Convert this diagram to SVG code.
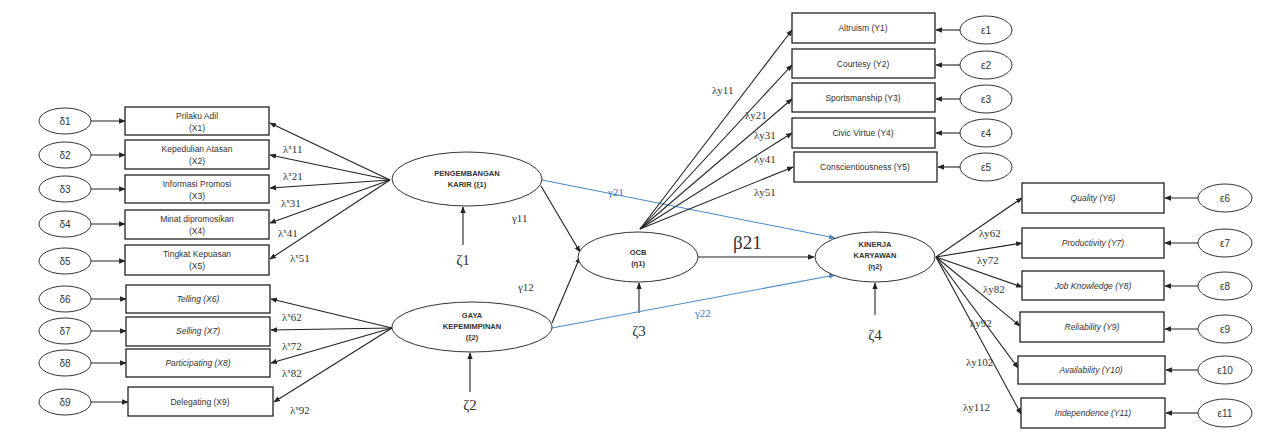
<svg xmlns="http://www.w3.org/2000/svg" width="1264" height="448" viewBox="0 0 1264 448">
<style>
.box{fill:#fff;stroke:#222;stroke-width:1.3}
.err{fill:#fff;stroke:#333;stroke-width:1}
.lat{fill:#fff;stroke:#333;stroke-width:1}
.bt{font-family:"Liberation Sans",Arial,sans-serif;font-size:8.5px;fill:#333;text-anchor:middle}
.bi{font-family:"Liberation Sans",Arial,sans-serif;font-size:8.5px;fill:#333;text-anchor:middle;font-style:italic}
.et{font-family:"Liberation Sans",Arial,sans-serif;font-size:10px;fill:#333;text-anchor:middle}
.lt{font-family:"Liberation Sans",Arial,sans-serif;font-size:7.5px;font-weight:bold;fill:#333;text-anchor:middle}
.lb{font-family:"Liberation Serif","Times New Roman",serif;font-size:11px;fill:#333}
.lbb{font-family:"Liberation Serif","Times New Roman",serif;font-size:11px;fill:#3a7ab8}
.big{font-family:"Liberation Serif","Times New Roman",serif;font-size:19px;fill:#333}
.z{font-family:"Liberation Serif","Times New Roman",serif;font-size:15px;fill:#333;text-anchor:middle}
.ln{stroke:#222;stroke-width:1.1;fill:none;marker-end:url(#ah)}
.bl{stroke:#4a8cc6;stroke-width:1.1;fill:none;marker-end:url(#ahb)}
</style>
<defs>
<marker id="ah" viewBox="0 0 10 10" refX="9" refY="5" markerWidth="6" markerHeight="6" orient="auto"><path d="M0,1 L10,5 L0,9 z" fill="#222"/></marker>
<marker id="ahb" viewBox="0 0 10 10" refX="9" refY="5" markerWidth="6" markerHeight="6" orient="auto"><path d="M0,1 L10,5 L0,9 z" fill="#4a8cc6"/></marker>
</defs>
<rect width="1264" height="448" fill="#fff"/>

<g id="connectors">
<line class="ln" x1="91" y1="121" x2="125" y2="121"/>
<line class="ln" x1="91" y1="155" x2="125" y2="155"/>
<line class="ln" x1="91" y1="189" x2="125" y2="189"/>
<line class="ln" x1="91" y1="224" x2="125" y2="224"/>
<line class="ln" x1="91" y1="261" x2="125" y2="261"/>
<line class="ln" x1="91" y1="299" x2="126" y2="299"/>
<line class="ln" x1="91" y1="331" x2="126" y2="331"/>
<line class="ln" x1="91" y1="363" x2="126" y2="363"/>
<line class="ln" x1="91" y1="402" x2="128" y2="402"/>
<line class="ln" x1="390" y1="180" x2="270" y2="123"/>
<line class="ln" x1="390" y1="180" x2="270" y2="155"/>
<line class="ln" x1="390" y1="180" x2="270" y2="188"/>
<line class="ln" x1="390" y1="180" x2="270" y2="223"/>
<line class="ln" x1="390" y1="180" x2="270" y2="259"/>
<line class="ln" x1="392" y1="328" x2="271" y2="299"/>
<line class="ln" x1="392" y1="328" x2="271" y2="330"/>
<line class="ln" x1="392" y1="328" x2="271" y2="363"/>
<line class="ln" x1="392" y1="328" x2="274" y2="402"/>
<line class="ln" x1="463" y1="245" x2="463" y2="207"/>
<line class="ln" x1="470" y1="392" x2="470" y2="353"/>
<line class="ln" x1="639" y1="313" x2="639" y2="283"/>
<line class="ln" x1="875" y1="315" x2="875" y2="283"/>
<line class="ln" x1="541" y1="186" x2="580" y2="252"/>
<line class="ln" x1="552" y1="323" x2="580" y2="257"/>
<line class="bl" x1="542" y1="180" x2="835" y2="238"/>
<line class="bl" x1="552" y1="328" x2="835" y2="275"/>
<line class="ln" x1="698" y1="257" x2="814" y2="257"/>
<line class="ln" x1="640" y1="229" x2="792" y2="30"/>
<line class="ln" x1="640" y1="229" x2="792" y2="65"/>
<line class="ln" x1="640" y1="229" x2="792" y2="99"/>
<line class="ln" x1="640" y1="229" x2="792" y2="133"/>
<line class="ln" x1="640" y1="229" x2="793" y2="167"/>
<line class="ln" x1="960" y1="30" x2="936" y2="30"/>
<line class="ln" x1="960" y1="65" x2="936" y2="65"/>
<line class="ln" x1="960" y1="99" x2="936" y2="99"/>
<line class="ln" x1="960" y1="133" x2="936" y2="133"/>
<line class="ln" x1="960" y1="167" x2="938" y2="167"/>
<line class="ln" x1="936" y1="257" x2="1022" y2="198"/>
<line class="ln" x1="936" y1="257" x2="1022" y2="243"/>
<line class="ln" x1="936" y1="257" x2="1022" y2="287"/>
<line class="ln" x1="936" y1="257" x2="1020" y2="326"/>
<line class="ln" x1="936" y1="257" x2="1018" y2="368"/>
<line class="ln" x1="936" y1="257" x2="1021" y2="414"/>
<line class="ln" x1="1198" y1="198" x2="1165" y2="198"/>
<line class="ln" x1="1198" y1="243" x2="1165" y2="243"/>
<line class="ln" x1="1198" y1="286" x2="1165" y2="286"/>
<line class="ln" x1="1198" y1="329" x2="1165" y2="329"/>
<line class="ln" x1="1198" y1="370" x2="1166" y2="370"/>
<line class="ln" x1="1198" y1="413" x2="1166" y2="413"/>
</g>

<g id="labels">
<text class="lb" x="283" y="153">λ<tspan font-size="7" dy="-4">x</tspan><tspan dy="4">11</tspan></text>
<text class="lb" x="283" y="180">λ<tspan font-size="7" dy="-4">x</tspan><tspan dy="4">21</tspan></text>
<text class="lb" x="281" y="207">λ<tspan font-size="7" dy="-4">x</tspan><tspan dy="4">31</tspan></text>
<text class="lb" x="278" y="237">λ<tspan font-size="7" dy="-4">x</tspan><tspan dy="4">41</tspan></text>
<text class="lb" x="290" y="262">λ<tspan font-size="7" dy="-4">x</tspan><tspan dy="4">51</tspan></text>
<text class="lb" x="282" y="321">λ<tspan font-size="7" dy="-4">x</tspan><tspan dy="4">62</tspan></text>
<text class="lb" x="282" y="350">λ<tspan font-size="7" dy="-4">x</tspan><tspan dy="4">72</tspan></text>
<text class="lb" x="282" y="377">λ<tspan font-size="7" dy="-4">x</tspan><tspan dy="4">82</tspan></text>
<text class="lb" x="290" y="414">λ<tspan font-size="7" dy="-4">x</tspan><tspan dy="4">92</tspan></text>
<text class="lb" x="512" y="222">γ11</text>
<text class="lb" x="518" y="291">γ12</text>
<text class="lbb" x="608" y="196">γ21</text>
<text class="lbb" x="695" y="317">γ22</text>
<text class="big" x="733" y="249">β21</text>
<text class="lb" x="712" y="94">λy11</text>
<text class="lb" x="745" y="119">λy21</text>
<text class="lb" x="754" y="139">λy31</text>
<text class="lb" x="754" y="163">λy41</text>
<text class="lb" x="754" y="196">λy51</text>
<text class="lb" x="979" y="237">λy62</text>
<text class="lb" x="977" y="264">λy72</text>
<text class="lb" x="983" y="293">λy82</text>
<text class="lb" x="970" y="327">λy92</text>
<text class="lb" x="966" y="366">λy102</text>
<text class="lb" x="963" y="411">λy112</text>
</g>

<g id="x1"><ellipse class="err" cx="65" cy="121" rx="26" ry="13"/><text class="et" x="65" y="125">δ1</text><rect class="box" x="125" y="107" width="144" height="28"/><text class="bt" x="197" y="119">Prilaku Adil</text><text class="bt" x="197" y="131">(X1)</text></g>
<g id="x2"><ellipse class="err" cx="65" cy="155" rx="26" ry="13"/><text class="et" x="65" y="159">δ2</text><rect class="box" x="125" y="140" width="144" height="29"/><text class="bt" x="197" y="152">Kepedulian Atasan</text><text class="bt" x="197" y="164">(X2)</text></g>
<g id="x3"><ellipse class="err" cx="65" cy="189" rx="26" ry="13"/><text class="et" x="65" y="193">δ3</text><rect class="box" x="125" y="175" width="144" height="28"/><text class="bt" x="197" y="187">Informasi Promosi</text><text class="bt" x="197" y="199">(X3)</text></g>
<g id="x4"><ellipse class="err" cx="65" cy="224" rx="26" ry="13"/><text class="et" x="65" y="228">δ4</text><rect class="box" x="125" y="210" width="144" height="29"/><text class="bt" x="197" y="222">Minat dipromosikan</text><text class="bt" x="197" y="234">(X4)</text></g>
<g id="x5"><ellipse class="err" cx="65" cy="261" rx="26" ry="13"/><text class="et" x="65" y="265">δ5</text><rect class="box" x="125" y="245" width="144" height="30"/><text class="bt" x="197" y="257">Tingkat Kepuasan</text><text class="bt" x="197" y="269">(X5)</text></g>
<g id="x6"><ellipse class="err" cx="65" cy="299" rx="26" ry="13"/><text class="et" x="65" y="303">δ6</text><rect class="box" x="126" y="285" width="144" height="28"/><text class="bi" x="198" y="302">Telling (X6)</text></g>
<g id="x7"><ellipse class="err" cx="65" cy="331" rx="26" ry="13"/><text class="et" x="65" y="335">δ7</text><rect class="box" x="126" y="317" width="144" height="29"/><text class="bi" x="198" y="334">Selling (X7)</text></g>
<g id="x8"><ellipse class="err" cx="65" cy="363" rx="26" ry="13"/><text class="et" x="65" y="367">δ8</text><rect class="box" x="126" y="349" width="144" height="28"/><text class="bi" x="198" y="366">Participating (X8)</text></g>
<g id="x9"><ellipse class="err" cx="65" cy="402" rx="26" ry="13"/><text class="et" x="65" y="406">δ9</text><rect class="box" x="128" y="387" width="145" height="29"/><text class="bt" x="200" y="405">Delegating (X9)</text></g>

<g id="ksi1"><ellipse class="lat" cx="467" cy="179" rx="75" ry="27"/><text class="lt" x="467" y="176">PENGEMBANGAN</text><text class="lt" x="467" y="187">KARIR (ξ1)</text><text class="z" x="463" y="265">ζ1</text></g>
<g id="ksi2"><ellipse class="lat" cx="472" cy="327" rx="80" ry="25"/><text class="lt" x="472" y="318">GAYA</text><text class="lt" x="472" y="329">KEPEMIMPINAN</text><text class="lt" x="472" y="340">(ξ2)</text><text class="z" x="470" y="410">ζ2</text></g>
<g id="eta1"><ellipse class="lat" cx="638" cy="257" rx="60" ry="25"/><text class="lt" x="638" y="255">OCB</text><text class="lt" x="638" y="266">(η1)</text><text class="z" x="639" y="336">ζ3</text></g>
<g id="eta2"><ellipse class="lat" cx="875" cy="257" rx="60" ry="25"/><text class="lt" x="875" y="247">KINERJA</text><text class="lt" x="875" y="258">KARYAWAN</text><text class="lt" x="875" y="269">(η2)</text><text class="z" x="875" y="340">ζ4</text></g>

<g id="y1"><rect class="box" x="792" y="13" width="143" height="30"/><text class="bt" x="863" y="31">Altruism (Y1)</text><ellipse class="err" cx="986" cy="30" rx="26" ry="14"/><text class="et" x="986" y="34">ε1</text></g>
<g id="y2"><rect class="box" x="792" y="49" width="143" height="29"/><text class="bt" x="863" y="67">Courtesy (Y2)</text><ellipse class="err" cx="986" cy="65" rx="26" ry="14"/><text class="et" x="986" y="69">ε2</text></g>
<g id="y3"><rect class="box" x="792" y="83" width="143" height="29"/><text class="bt" x="863" y="101">Sportsmanship (Y3)</text><ellipse class="err" cx="986" cy="99" rx="26" ry="14"/><text class="et" x="986" y="103">ε3</text></g>
<g id="y4"><rect class="box" x="792" y="118" width="143" height="30"/><text class="bt" x="863" y="136">Civic Virtue (Y4)</text><ellipse class="err" cx="986" cy="133" rx="26" ry="14"/><text class="et" x="986" y="137">ε4</text></g>
<g id="y5"><rect class="box" x="794" y="152" width="143" height="30"/><text class="bt" x="865" y="170">Conscientiousness (Y5)</text><ellipse class="err" cx="986" cy="167" rx="26" ry="14"/><text class="et" x="986" y="171">ε5</text></g>

<g id="y6"><rect class="box" x="1022" y="183" width="142" height="30"/><text class="bi" x="1093" y="201">Quality (Y6)</text><ellipse class="err" cx="1225" cy="198" rx="27" ry="14"/><text class="et" x="1225" y="202">ε6</text></g>
<g id="y7"><rect class="box" x="1022" y="228" width="142" height="30"/><text class="bi" x="1093" y="246">Productivity (Y7)</text><ellipse class="err" cx="1225" cy="243" rx="27" ry="14"/><text class="et" x="1225" y="247">ε7</text></g>
<g id="y8"><rect class="box" x="1022" y="271" width="142" height="29"/><text class="bi" x="1093" y="289">Job Knowledge (Y8)</text><ellipse class="err" cx="1225" cy="286" rx="27" ry="14"/><text class="et" x="1225" y="290">ε8</text></g>
<g id="y9"><rect class="box" x="1020" y="312" width="144" height="30"/><text class="bi" x="1092" y="330">Reliability (Y9)</text><ellipse class="err" cx="1225" cy="329" rx="27" ry="14"/><text class="et" x="1225" y="333">ε9</text></g>
<g id="y10"><rect class="box" x="1018" y="356" width="147" height="28"/><text class="bi" x="1091" y="373">Availability (Y10)</text><ellipse class="err" cx="1225" cy="370" rx="27" ry="14"/><text class="et" x="1225" y="374">ε10</text></g>
<g id="y11"><rect class="box" x="1021" y="398" width="144" height="30"/><text class="bi" x="1093" y="416">Independence (Y11)</text><ellipse class="err" cx="1225" cy="413" rx="27" ry="14"/><text class="et" x="1225" y="417">ε11</text></g>
</svg>
